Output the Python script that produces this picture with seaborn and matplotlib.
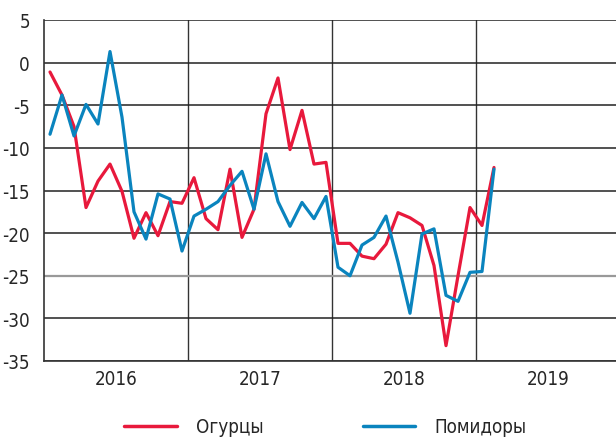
import numpy as np
import pandas as pd
import matplotlib
matplotlib.use("Agg")
import matplotlib.pyplot as plt
import seaborn as sns

# monthly values, Jan 2016 .. Feb 2019
cucumbers = [-1.1, -3.8, -7.5, -17.0, -13.9, -11.9, -15.1, -20.6, -17.6, -20.3, -16.3, -16.5,
             -13.5, -18.3, -19.6, -12.5, -20.5, -17.2, -6.0, -1.8, -10.2, -5.6, -11.9, -11.7,
             -21.2, -21.2, -22.7, -23.0, -21.3, -17.6, -18.2, -19.1, -23.8, -33.2, -25.0, -17.0,
             -19.1, -12.3]
tomatoes = [-8.4, -3.8, -8.6, -4.9, -7.2, 1.3, -6.4, -17.5, -20.7, -15.4, -16.0, -22.1,
            -18.0, -17.2, -16.3, -14.4, -12.75, -17.2, -10.7, -16.3, -19.2, -16.4, -18.3, -15.7,
            -24.0, -25.0, -21.4, -20.5, -18.0, -23.4, -29.4, -20.1, -19.5, -27.3, -28.0, -24.6,
            -24.5, -12.5]
series_names = ["Огурцы", "Помидоры"]
years = ["2016", "2017", "2018", "2019"]
y_ticks = [5, 0, -5, -10, -15, -20, -25, -30, -35]

colors = {"Огурцы": "#e8193c", "Помидоры": "#0a84be"}

df = pd.DataFrame({
    "month": list(range(len(cucumbers))) * 2,
    "value": cucumbers + tomatoes,
    "series": [series_names[0]] * len(cucumbers) + [series_names[1]] * len(tomatoes),
})

sns.set_style("white")
plt.rcParams["font.family"] = ["DejaVu Sans"]
plt.rcParams["font.stretch"] = "condensed"

fig = plt.figure(figsize=(6.16, 4.39), dpi=100)
ax = fig.add_axes([44 / 616, 1 - 362 / 439, 1 - 44 / 616, (362 - 21) / 439])

sns.lineplot(data=df, x="month", y="value", hue="series", palette=colors,
             linewidth=2.3, ax=ax, legend=False, zorder=3)

ax.set_ylim(-35, 5)
ax.set_xlim(-0.5, -0.5 + 572 / 12)
ax.set_yticks(y_ticks)
ax.set_yticklabels([str(v) for v in y_ticks], fontsize=13.5)
ax.tick_params(axis="y", length=0, pad=10)

year_centers = [5.5 + 12 * i for i in range(len(years))]
ax.set_xticks(year_centers)
ax.set_xticklabels(years, fontsize=13.5)
ax.tick_params(axis="x", which="both", length=0, pad=6)
ax.set_xticks([11.5 + 12 * i for i in range(len(years) - 1)], minor=True)

ax.grid(axis="y", color="#222222", linewidth=1.1)
ax.grid(axis="x", which="minor", color="#333333", linewidth=1.0)
for gl in ax.get_ygridlines():
    if abs(gl.get_ydata()[0] + 25) < 1e-6:
        gl.set_color("#999999")
        gl.set_linewidth(1.6)

ax.set_xlabel("")
ax.set_ylabel("")
for side in ["top", "right"]:
    ax.spines[side].set_visible(False)
ax.spines["left"].set_color("#333333")
ax.spines["bottom"].set_color("#333333")
ax.spines["left"].set_linewidth(1.2)
ax.spines["bottom"].set_linewidth(1.2)

handles = [plt.Line2D([], [], color=colors[n], linewidth=2.5) for n in series_names]
fig.legend(handles, series_names, loc="center", bbox_to_anchor=(0.528, 1 - 428 / 439),
           ncol=2, frameon=False, fontsize=13.5, handlelength=2.8, handletextpad=1.0,
           columnspacing=5.3)

fig.savefig("out.png", dpi=100)
